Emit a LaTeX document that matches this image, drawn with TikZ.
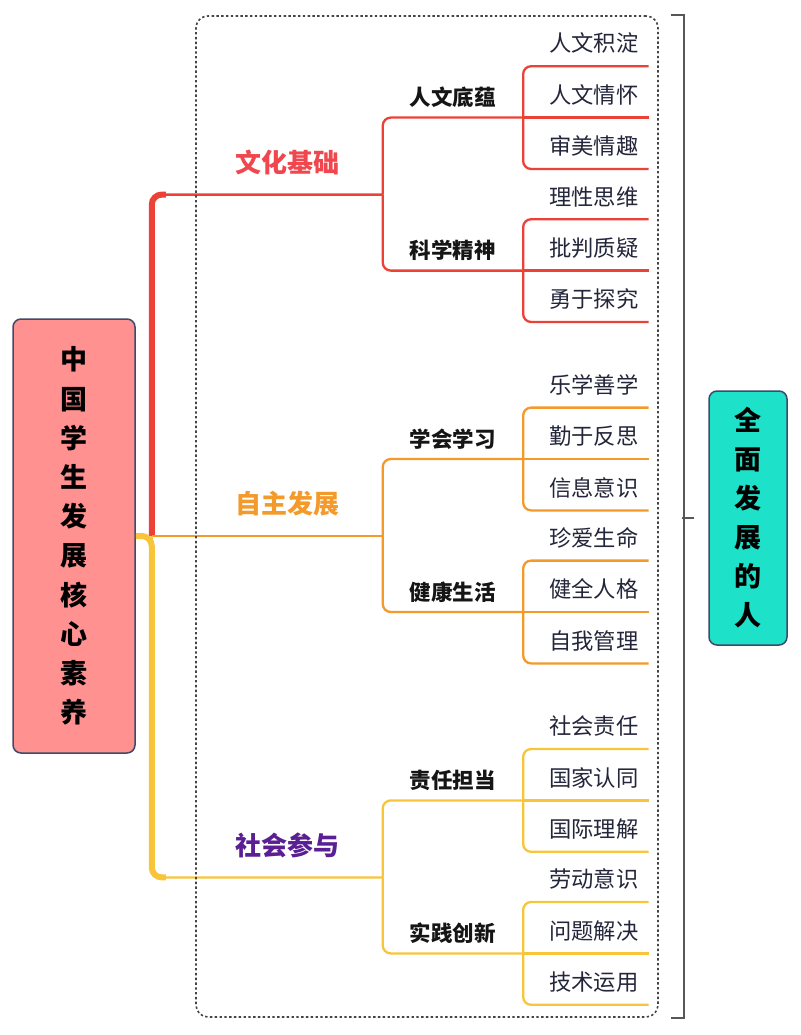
\documentclass[tikz,border=0pt]{standalone}
\usepackage{fontspec}
\setmainfont{Noto Sans CJK SC}
\usetikzlibrary{positioning}
\definecolor{redc}{HTML}{EC4137}
\definecolor{redt}{HTML}{F0474E}
\definecolor{orangec}{HTML}{F39A2B}
\definecolor{yellowc}{HTML}{F8C53A}
\definecolor{purplec}{HTML}{5B1F94}
\definecolor{pinkc}{HTML}{FF9190}
\definecolor{tealc}{HTML}{1DE1C9}
\definecolor{bordc}{HTML}{3D4A6B}
\definecolor{framec}{HTML}{444444}
\definecolor{textc}{HTML}{151515}
\definecolor{leafc}{HTML}{23263A}

\begin{document}
\begin{tikzpicture}[x=1pt,y=-1pt,
  branch/.style={line width=2.3pt, rounded corners=8pt},
  trunk/.style={line width=6pt, rounded corners=10pt},
  elbow/.style={to path={|- (\tikztotarget)}},
  root/.style={draw=bordc, line width=1.5pt, fill=pinkc, rounded corners=8pt,
    minimum width=122pt, minimum height=434pt, align=center,
    font=\fontsize{27}{39.2}\selectfont\bfseries},
  goal/.style={draw=bordc, line width=1.5pt, fill=tealc, rounded corners=8pt,
    minimum width=78pt, minimum height=254pt, align=center,
    font=\fontsize{27}{39}\selectfont\bfseries},
  topic/.style={inner sep=0pt, minimum width=190pt, minimum height=64pt,
    text height=20pt, text depth=0pt, font=\fontsize{26}{26}\selectfont\bfseries},
  sub/.style={inner sep=0pt, minimum width=140pt, minimum height=40pt, text=textc,
    text height=17pt, text depth=0pt, font=\fontsize{21.5}{21.5}\selectfont\bfseries},
  leaf/.style={inner sep=0pt, inner xsep=10pt, text width=105pt, align=right,
    minimum height=51pt, text height=23pt, text depth=0pt, text=leafc,
    font=\fontsize{22.3}{22.3}\selectfont},
  frame/.style={draw=framec, line width=1.6pt, dash pattern=on 2.4pt off 2.4pt,
    rounded corners=12pt, minimum width=462pt, minimum height=1001pt, inner sep=0pt},
  brace/.style={draw=framec!90, line width=2pt}]
  \useasboundingbox (0,0) rectangle (800,1035);

  \node[root] (root) at (74,536) {中\\国\\学\\生\\发\\展\\核\\心\\素\\养};
  \node[goal] (goal) at (748,518) {全\\面\\发\\展\\的\\人};
  \coordinate (hub) at ([xshift=16pt]root.east);

  % first level
  \node[topic, text=orangec, anchor=south east] (zzfz) at ([xshift=247pt]root.east) {自主发展};
  \node[topic, text=redt, above=277pt of zzfz] (whjc) {文化基础};
  \node[topic, text=purplec, below=277pt of zzfz] (shcy) {社会参与};

  % second level
  \node[sub, anchor=south west] (rwdy) at ([yshift=77pt]whjc.south east) {人文底蕴};
  \node[sub, anchor=south west] (kxjs) at ([yshift=-76pt]whjc.south east) {科学精神};
  \node[sub, anchor=south west] (xhxx) at ([yshift=77pt]zzfz.south east) {学会学习};
  \node[sub, anchor=south west] (jksh) at ([yshift=-76pt]zzfz.south east) {健康生活};
  \node[sub, anchor=south west] (zrdd) at ([yshift=77pt]shcy.south east) {责任担当};
  \node[sub, anchor=south west] (sjcx) at ([yshift=-76pt]shcy.south east) {实践创新};

  % leaves
  \node[leaf, anchor=south west] (rwqh) at (rwdy.south east) {人文情怀};
  \node[leaf, above=0pt of rwqh] (rwjd) {人文积淀};
  \node[leaf, below=0pt of rwqh] (smqq) {审美情趣};
  \node[leaf, anchor=south west] (ppzy) at (kxjs.south east) {批判质疑};
  \node[leaf, above=0pt of ppzy] (lxsw) {理性思维};
  \node[leaf, below=0pt of ppzy] (yytj) {勇于探究};
  \node[leaf, anchor=south west] (qyfs) at (xhxx.south east) {勤于反思};
  \node[leaf, above=0pt of qyfs] (lxsx) {乐学善学};
  \node[leaf, below=0pt of qyfs] (xxys) {信息意识};
  \node[leaf, anchor=south west] (jqrg) at (jksh.south east) {健全人格};
  \node[leaf, above=0pt of jqrg] (zasm) {珍爱生命};
  \node[leaf, below=0pt of jqrg] (zwgl) {自我管理};
  \node[leaf, anchor=south west] (gjrt) at (zrdd.south east) {国家认同};
  \node[leaf, above=0pt of gjrt] (shzr) {社会责任};
  \node[leaf, below=0pt of gjrt] (gjlj) {国际理解};
  \node[leaf, anchor=south west] (wtjj) at (sjcx.south east) {问题解决};
  \node[leaf, above=0pt of wtjj] (ldys) {劳动意识};
  \node[leaf, below=0pt of wtjj] (jsyy) {技术运用};

  % trunk
  \draw[trunk, redc] (hub) |- ([xshift=14pt]hub |- whjc.south);
  \draw[trunk, yellowc] (root.east) -- (hub) |- ([xshift=14pt]hub |- shcy.south);

  \path[branch, color=redc]
    (hub)             edge[elbow] (whjc.south east)
    (whjc.south east) edge[elbow] (rwdy.south east)
                      edge[elbow] (kxjs.south east)
    (rwdy.south east) edge[elbow] (rwjd.south east)
                      edge (rwqh.south east)
                      edge[elbow] (smqq.south east)
    (kxjs.south east) edge[elbow] (lxsw.south east)
                      edge (ppzy.south east)
                      edge[elbow] (yytj.south east);
  \path[branch, color=orangec]
    (hub)             edge (zzfz.south east)
    (zzfz.south east) edge[elbow] (xhxx.south east)
                      edge[elbow] (jksh.south east)
    (xhxx.south east) edge[elbow] (lxsx.south east)
                      edge (qyfs.south east)
                      edge[elbow] (xxys.south east)
    (jksh.south east) edge[elbow] (zasm.south east)
                      edge (jqrg.south east)
                      edge[elbow] (zwgl.south east);
  \path[branch, color=yellowc]
    (hub)             edge[elbow] (shcy.south east)
    (shcy.south east) edge[elbow] (zrdd.south east)
                      edge[elbow] (sjcx.south east)
    (zrdd.south east) edge[elbow] (shzr.south east)
                      edge (gjrt.south east)
                      edge[elbow] (gjlj.south east)
    (sjcx.south east) edge[elbow] (ldys.south east)
                      edge (wtjj.south east)
                      edge[elbow] (jsyy.south east);

  % frame and bracket
  \node[frame] (frame) at (427,516.5) {};
  \draw[brace] ([xshift=12pt]frame.north east) -| ([xshift=25pt]frame.south east)
    -- ([xshift=12pt]frame.south east);
  \draw[brace] ([xshift=-14pt]goal.west) -- ++(-12pt,0pt);
\end{tikzpicture}
\end{document}
